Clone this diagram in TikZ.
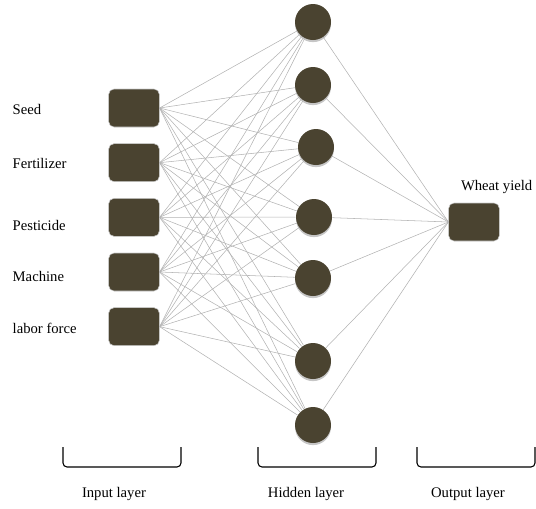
\documentclass[tikz,border=0pt]{standalone}
\usepackage{fontspec}
\setmainfont{Liberation Serif}
\usetikzlibrary{positioning, shadows}

\definecolor{nodefill}{RGB}{74,67,48}

\begin{document}
\begin{tikzpicture}[x=0.75pt,y=-0.75pt,node distance=41pt,
  unit/.style={draw=gray!40, fill=nodefill, rounded corners=4pt,
    minimum width=38pt, minimum height=28.5pt},
  neuron/.style={circle, fill=nodefill, minimum size=27pt, inner sep=0pt,
    drop shadow={shadow xshift=0pt, shadow yshift=-1.6pt, fill=gray!45, opacity=1}},
  link/.style={gray!60, line width=0.4pt},
  label/.style={font=\fontsize{11}{13}\selectfont, anchor=west},
  brace/.style={line width=0.8pt, rounded corners=3pt}]
\useasboundingbox (0,0) rectangle (536,508);

% define the input units
  \node[unit]  (in1) at (134,108)  {};
  \node[unit]  (in2) [below of=in1] {};
  \node[unit]  (in3) [below of=in2] {};
  \node[unit]  (in4) [below of=in3] {};
  \node[unit]  (in5) [below of=in4] {};

  \node[label] (l1) at (8,109) {Seed};
  \node[label] (l2) at (8,163) {Fertilizer};
  \node[label] (l3) at (8,225) {Pesticide};
  \node[label] (l4) at (8,276) {Machine};
  \node[label] (l5) at (8,328) {labor force};

% define the hidden neurons
  \node[neuron] (h1) at (313,22)  {};
  \node[neuron] (h2) at (313,85)  {};
  \node[neuron] (h3) at (316,147) {};
  \node[neuron] (h4) at (314,217) {};
  \node[neuron] (h5) at (313,278) {};
  \node[neuron] (h6) at (313,361) {};
  \node[neuron] (h7) at (313,425) {};

% define the output unit
  \node[unit]  (out) at (474,222) {};
  \node[label, anchor=center] (lout) [above=3pt of out, xshift=17pt] {Wheat yield};

% define the links
  \foreach \i in {1,...,5}
    \foreach \j in {1,...,7}
      \draw[link] (in\i.east) -- (h\j);
  \foreach \j in {1,...,7}
    \draw[link] (h\j) -- (out.west);

% layer brackets and names
  \draw[brace] (63,447) -- (63,467) -- (181,467) -- (181,447);
  \draw[brace] (258,447) -- (258,467) -- (376,467) -- (376,447);
  \draw[brace] (417,447) -- (417,467) -- (535,467) -- (535,447);

  \node[label, anchor=center] (t1) at (114,494) {Input layer};
  \node[label, anchor=center] (t2) at (306,494) {Hidden layer};
  \node[label, anchor=center] (t3) at (468,494) {Output layer};

\end{tikzpicture}
\end{document}
